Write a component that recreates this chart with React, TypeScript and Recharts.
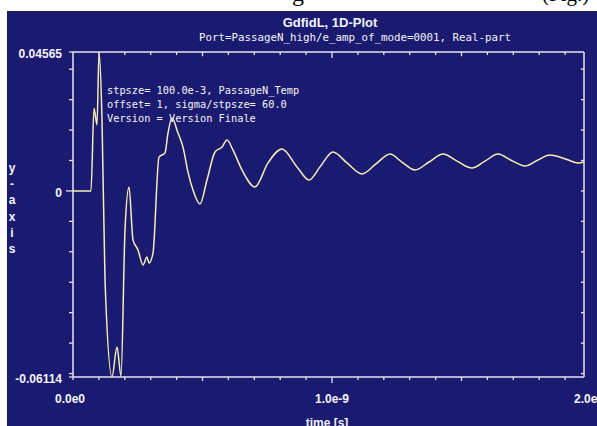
import React from 'react';
import { LineChart, Line, XAxis, YAxis, ReferenceLine } from 'recharts';

// time in ns (label shows e-9), value in arbitrary units
const times = [
	0, 0.0695, 0.0811, 0.0927, 0.1004, 0.112, 0.1236, 0.1506, 0.1699, 0.1853,
	0.2008, 0.2162, 0.2317, 0.251, 0.2703, 0.2857, 0.2934, 0.3089, 0.332, 0.3552,
	0.3668, 0.3822, 0.4054, 0.4247, 0.444, 0.4633, 0.4903, 0.5174, 0.5483, 0.5753,
	0.5946, 0.6178, 0.6525, 0.7027, 0.7529, 0.8069, 0.8649, 0.9112, 0.9537, 1.0039,
	1.0579, 1.1158, 1.17, 1.2239, 1.27, 1.3205, 1.3745, 1.4286, 1.4826, 1.5405,
	1.5907, 1.6409, 1.691, 1.7452, 1.7915, 1.8417, 1.907, 1.95, 1.973,
];
const values = [
	0, 0, 0.0272, 0.0217, 0.04565, 0.0233, -0.0293, -0.0611, -0.0513, -0.0608,
	-0.0128, 0.0013, -0.0161, -0.0194, -0.0243, -0.0217, -0.0237, -0.0204, 0.0111, 0.0125,
	0.019, 0.024, 0.019, 0.0144, 0.0062, 0.0003, -0.0043, 0.0036, 0.0128, 0.0144,
	0.0167, 0.0134, 0.0069, 0.0013, 0.0092, 0.0138, 0.0079, 0.0036, 0.0079, 0.0128,
	0.0092, 0.0056, 0.0089, 0.0121, 0.0095, 0.0069, 0.0095, 0.0121, 0.0098, 0.0075,
	0.0098, 0.0121, 0.0101, 0.0082, 0.01, 0.0118, 0.0103, 0.0092, 0.0095,
];

const xTicks = [0, 0.1, 0.2, 0.3, 0.4, 0.5, 0.6, 0.7, 0.8, 0.9, 1, 1.1, 1.2, 1.3, 1.4, 1.5, 1.6, 1.7, 1.8, 1.9, 2];
const xLabels: Record<string, string> = { '0': '0.0e0', '1': '1.0e-9', '2': '2.0e-9' };
const yTicks = [-0.06114, -0.06, -0.05, -0.04, -0.03, -0.02, -0.01, 0, 0.01, 0.02, 0.03, 0.04, 0.04565];
const yLabels: Record<string, string> = { '-0.06114': '-0.06114', '0': '0', '0.04565': '0.04565' };
const innerYTicks = [-0.06, -0.05, -0.04, -0.03, -0.02, -0.01, 0, 0.01, 0.02, 0.03, 0.04];
const topTicks = [0.1, 0.2, 0.3, 0.4, 0.5, 0.6, 0.7, 0.8, 0.9, 1, 1.1, 1.2, 1.3, 1.4, 1.5, 1.6, 1.7, 1.8, 1.9];

const X_MAX = 2;
const X_FRAME = 1.973;
const Y_MIN = -0.06114;
const Y_MAX = 0.04565;

const data = times.map((t, i) => ({ t, v: values[i] }));

const BG = '#1a1a70';
const FG = '#e4e4ec';
const LBL = '#f4f4f8';
const sans = '"Liberation Sans", Arial, sans-serif';
const mono = '"DejaVu Sans Mono", monospace';

function BottomTick(props: any) {
	const { x, y, payload } = props;
	const t = payload.value;
	const len = t === 1 ? 6 : t === 0.5 || t === 1.5 ? 4 : 3;
	const label = xLabels[String(t)];
	return (
		<g>
			{t < X_FRAME && <line x1={x} y1={y} x2={x} y2={y + len} stroke={FG} strokeWidth={1.3} />}
			{label && (
				<text x={t === 0 ? x - 3 : x} y={y + 26} textAnchor='middle' fill={LBL}
					fontFamily={sans} fontWeight='bold' fontSize={12}>
					{label}
				</text>
			)}
		</g>
	);
}

function LeftTick(props: any) {
	const { x, y, payload } = props;
	const v = payload.value;
	const len = v === 0 ? 7 : 4;
	const label = yLabels[String(v)];
	return (
		<g>
			<line x1={x - len} y1={y} x2={x} y2={y} stroke={FG} strokeWidth={1.3} />
			{label && (
				<text x={x - 11} y={y + 6} textAnchor='end' fill={LBL}
					fontFamily={sans} fontWeight='bold' fontSize={12}>
					{label}
				</text>
			)}
		</g>
	);
}

const abs = (s: React.CSSProperties): React.CSSProperties => ({ position: 'absolute', whiteSpace: 'pre', ...s });

export default function App() {
	return (
		<div style={{ position: 'absolute', left: 0, top: 0, width: 597, height: 426, background: '#fff', overflow: 'hidden' }}>
			<svg width={597} height={12} style={{ position: 'absolute', left: 0, top: 0 }}>
				<text x={292} y={0.5} fontFamily='"Liberation Serif", serif' fontSize={24} fill='#000'>g</text>
				<text x={542} y={0.5} fontFamily='"Liberation Serif", serif' fontSize={21} fill='#000'>(Fig.)</text>
			</svg>
			<div style={abs({ left: 7, top: 11, right: 0, bottom: 0, background: BG })} />
			<div style={abs({ left: 0, top: 0 })}>
				<LineChart width={597} height={426} data={data} margin={{ top: 52, right: 6, bottom: 0, left: 0 }}>
					<XAxis dataKey='t' type='number' domain={[0, X_MAX]} ticks={xTicks} interval={0}
						height={49} axisLine={false} tickLine={false} tickSize={0} tickMargin={0}
						tick={BottomTick} allowDataOverflow />
					<YAxis type='number' domain={[Y_MIN, Y_MAX]} ticks={yTicks} interval={0}
						width={73} axisLine={{ stroke: FG, strokeWidth: 1.5 }} tickLine={false}
						tickSize={0} tickMargin={0} tick={LeftTick} allowDataOverflow />
					<ReferenceLine segment={[{ x: 0, y: Y_MIN }, { x: X_FRAME, y: Y_MIN }]} stroke={FG} strokeWidth={1.5} />
					<ReferenceLine segment={[{ x: 0, y: Y_MAX }, { x: X_FRAME, y: Y_MAX }]} stroke={FG} strokeWidth={1.5} />
					<ReferenceLine segment={[{ x: X_FRAME, y: Y_MIN }, { x: X_FRAME, y: Y_MAX }]} stroke={FG} strokeWidth={1.5} />
					{innerYTicks.map(v => (
						<ReferenceLine key={'r' + v} segment={[{ x: X_FRAME - 0.012, y: v }, { x: X_FRAME, y: v }]} stroke={FG} strokeWidth={1.3} />
					))}
					{topTicks.map(t => (
						<ReferenceLine key={'t' + t}
							segment={[{ x: t, y: Y_MAX }, { x: t, y: Y_MAX - (t === 1 ? 0.002 : t === 0.5 || t === 1.5 ? 0.0014 : 0.001) }]}
							stroke={FG} strokeWidth={1.3} />
					))}
					<Line dataKey='v' type='monotone' stroke='#f3f0b4' strokeWidth={1.5} dot={false} isAnimationActive={false} />
				</LineChart>
			</div>
			<div style={abs({ left: 330, top: 15, transform: 'translateX(-50%)', color: LBL, fontFamily: sans, fontWeight: 'bold', fontSize: 13, lineHeight: '16px' })}>
				GdfidL, 1D-Plot
			</div>
			<div style={abs({ left: 355, top: 31, transform: 'translateX(-50%)', color: LBL, fontFamily: mono, fontSize: 10.8, lineHeight: '14px' })}>
				Port=PassageN_high/e_amp_of_mode=0001, Real-part
			</div>
			<div style={abs({ left: 107, top: 83, color: LBL, fontFamily: mono, fontSize: 10.3, lineHeight: '14px' })}>
				{'stpsze= 100.0e-3, PassageN_Temp\noffset= 1, sigma/stpsze= 60.0\nVersion = Version Finale'}
			</div>
			<div style={abs({ left: 12, top: 160, transform: 'translateX(-50%)', color: LBL, fontFamily: sans, fontWeight: 'bold', fontSize: 12, lineHeight: '16.2px', textAlign: 'center' })}>
				{'y\n-\na\nx\ni\ns'}
			</div>
			<div style={abs({ left: 327, top: 415, transform: 'translateX(-50%)', color: LBL, fontFamily: sans, fontWeight: 'bold', fontSize: 12, lineHeight: '16px' })}>
				time [s]
			</div>
		</div>
	);
}
